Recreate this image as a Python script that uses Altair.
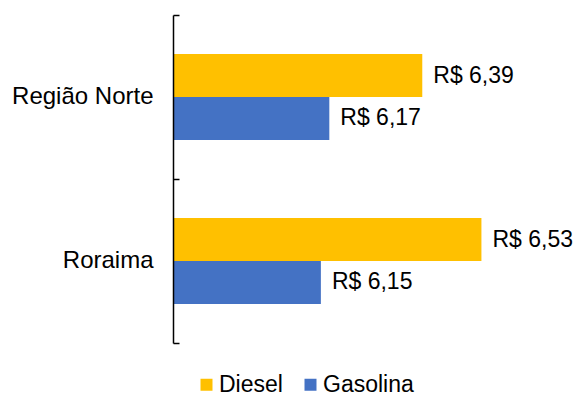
import altair as alt
import pandas as pd

regions = ["Região Norte", "Roraima"]
fuels = ["Diesel", "Gasolina"]
diesel = [6.39, 6.53]
gasolina = [6.17, 6.15]
colors = ["#FFC000", "#4472C4"]

rows = []
for i, r in enumerate(regions):
    rows.append({"regiao": r, "combustivel": fuels[0], "preco": diesel[i]})
    rows.append({"regiao": r, "combustivel": fuels[1], "preco": gasolina[i]})
df = pd.DataFrame(rows)

FONT = "Liberation Sans"

y_scale = alt.Scale(domain=regions, paddingInner=0, paddingOuter=0)
x_scale = alt.Scale(domain=[5.8, 6.6], zero=False, nice=False, clamp=True)
yoff = alt.YOffset("combustivel:N", sort=fuels,
                   scale=alt.Scale(domain=fuels, paddingInner=0, paddingOuter=0.907))

bars = alt.Chart(df).mark_bar().encode(
    x=alt.X("preco:Q", scale=x_scale, axis=None),
    y=alt.Y(
        "regiao:N", sort=regions, scale=y_scale, title=None,
        axis=alt.Axis(orient="left", ticks=False, domain=True, domainColor="black",
                      domainWidth=1.5, labelFontSize=24, labelColor="black",
                      labelFont=FONT, labelPadding=20, grid=False, zindex=1),
    ),
    yOffset=yoff,
    color=alt.Color(
        "combustivel:N", scale=alt.Scale(domain=fuels, range=colors),
        legend=alt.Legend(title=None, orient="none", direction="horizontal",
                          legendX=22, legendY=358, symbolType="square",
                          symbolSize=144, symbolStrokeWidth=0, labelFontSize=23,
                          labelFont=FONT, labelColor="black", columnPadding=16,
                          labelOffset=1),
    ),
)

labels = alt.Chart(df).transform_calculate(
    lbl="'R$ ' + replace(format(datum.preco, '.2f'), '.', ',')"
).mark_text(align="left", baseline="middle", dx=11, fontSize=23, font=FONT,
            color="black").encode(
    x=alt.X("preco:Q", scale=x_scale, axis=None),
    y=alt.Y(
        "regiao:N", sort=regions, scale=y_scale, title=None,
        axis=alt.Axis(orient="left", offset=-6, tickBand="extent", ticks=True,
                      tickSize=6, tickWidth=1.5, tickColor="black", labels=False,
                      domain=False, grid=False, zindex=1),
    ),
    yOffset=yoff,
    text="lbl:N",
)

chart = alt.layer(bars, labels).resolve_scale(y="shared").resolve_axis(
    y="independent"
).properties(
    width=338, height=328,
    autosize=alt.AutoSizeParams(type="none"),
    padding={"left": 165, "top": 7, "right": 63, "bottom": 53},
).configure_view(stroke=None)

chart.save("out.html", embed_options={"renderer": "svg", "actions": False})
